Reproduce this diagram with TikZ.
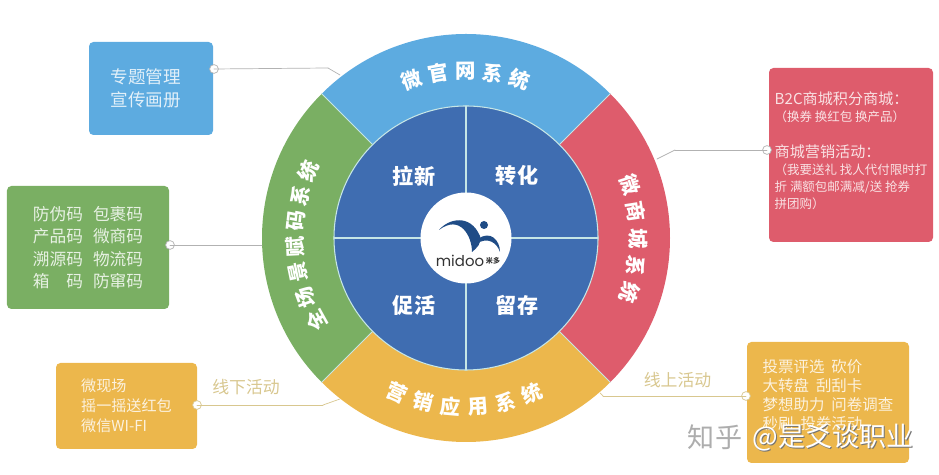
\documentclass[tikz,border=0pt]{standalone}
\usepackage{fontspec}
\usepackage{tkz-euclide}
\setmainfont{Noto Sans CJK SC}
\newfontfamily\logofont{Poppins}
\definecolor{topBlue}{HTML}{5DABE0}
\definecolor{midGreen}{HTML}{7AAF63}
\definecolor{midRed}{HTML}{DE5C6C}
\definecolor{midYellow}{HTML}{ECB74C}
\definecolor{coreBlue}{HTML}{3F6DB1}
\definecolor{logoBlue}{HTML}{1F4C86}
\definecolor{sepLine}{HTML}{C6E6E6}
\definecolor{tanText}{HTML}{D8C78F}
\newcommand{\mySize}[2]{\fontsize{#1}{#2}\selectfont}
\newcommand{\myArcText}[6]{
\foreach \ch [count=\i from 0] in {#1}{
	\pgfmathsetmacro{\ang}{#2+\i*#3}
	\pgfmathsetmacro{\rot}{\ang+#5}
	\node[ringtext,rotate=\rot] (#6\i) at ([shift={(\ang:#4)}]O) {\ch};
}
}
\tikzset{
	ringtext/.style={text=white,font=\bfseries\mySize{11.6}{14}},
	coretext/.style={text=white,font=\bfseries\mySize{12}{14}},
	sidebox/.style={fill=#1,text=white!82!#1,rounded corners=2.5pt,align=left,inner sep=0pt},
	conn/.style={draw=#1,line width=.4pt},
	dotnode/.style={circle,draw=#1,fill=white,line width=.4pt,inner sep=0pt,minimum size=5pt},
	linktext/.style={text=tanText,font=\mySize{9.6}{12}},
	marktext/.style={font=\mySize{15.4}{18}},
}
\begin{document}
\begin{tikzpicture}
	\useasboundingbox (0,0) rectangle (18.78,9.5);
	\tkzDefPoint(9.32,4.74){O}
	\tkzDefShiftPoint[O](45:4.08){A}
	\tkzDefShiftPoint[O](135:4.08){B}
	\tkzDefShiftPoint[O](225:4.08){C}
	\tkzDefShiftPoint[O](315:4.08){D}
	\tkzDefShiftPoint[O](90:2.64){N}
	\tkzDefShiftPoint[O](180:2.64){W}
	\tkzDefShiftPoint[O](270:2.64){S}
	\tkzDefShiftPoint[O](0:2.64){E}
	\tkzDefShiftPoint[O](0:.91){L}
	%% outer ring
	\tkzFillSector[fill=topBlue](O,A)(B)
	\tkzFillSector[fill=midGreen](O,B)(C)
	\tkzFillSector[fill=midYellow](O,C)(D)
	\tkzFillSector[fill=midRed](O,D)(A)
	\tkzDrawSegments[sepLine,line width=.5pt](O,A O,B O,C O,D)
	%% core
	\tkzDrawCircle[draw=sepLine,line width=.6pt,fill=coreBlue](O,E)
	\tkzDrawSegments[sepLine,line width=.6pt](N,S W,E)
	\tkzFillCircle[white](O,L)
	%% logo
	\fill[logoBlue] (8.78,4.90) .. controls (8.96,5.12) and (9.40,5.24) .. (9.60,4.78)
		.. controls (9.64,4.64) and (9.54,4.54) .. (9.44,4.46)
		.. controls (9.44,4.78) and (9.20,5.22) .. (8.78,4.90) -- cycle;
	\fill[logoBlue] (9.56,4.72) .. controls (9.80,4.90) and (10.00,4.70) .. (10.00,4.46)
		.. controls (9.94,4.64) and (9.76,4.78) .. (9.52,4.62) -- cycle;
	\fill[logoBlue] (9.68,5.00) circle (.08);
	\node[text=black!80,font=\logofont\mySize{8.5}{10}] (logoName) at (9.20,4.28) {midoo};
	\node[text=black!80,font=\bfseries\mySize{4}{5}] (logoCn) at (9.86,4.28) {米多};
	%% ring labels
	\myArcText{微,官,网,系,统}{109}{-9.4}{3.34}{-90}{wgw}
	\myArcText{全,场,景,赋,码,系,统}{209}{-8.7}{3.42}{-90}{qcj}
	\myArcText{微,商,城,系,统}{18}{-9.1}{3.44}{-90}{wsc}
	\myArcText{营,销,应,用,系,统}{246}{9.4}{3.38}{90}{yxy}
	\node[coretext] (laxin) at (8.28,5.98) {拉新};
	\node[coretext] (zhuanhua) at (10.34,5.98) {转化};
	\node[coretext] (cuhuo) at (8.28,3.40) {促活};
	\node[coretext] (liucun) at (10.34,3.40) {留存};
	%% boxes
	\node[sidebox=topBlue,minimum width=2.48cm,minimum height=1.86cm,font=\mySize{10}{13}] (boxTop) at (3.02,7.73)
		{专题管理\hspace*{5.7pt}\\宣传画册};
	\node[sidebox=midGreen,minimum width=3.24cm,minimum height=2.46cm,font=\mySize{9.5}{12.7}] (boxLeft) at (1.76,4.55)
		{防伪码\hspace{.6em}包裹码\\产品码\hspace{.6em}微商码\\溯源码\hspace{.6em}物流码\\箱\quad 码\hspace{.6em}防窜码};
	\node[sidebox=midRed,minimum width=3.28cm,minimum height=3.48cm,font=\mySize{7.1}{9.7}] (boxRight) at (17.02,6.40)
		{{\mySize{8.6}{10}B2C商城积分商城：}\\（换券 换红包 换产品）\\[10.5pt]{\mySize{8.6}{10}商城营销活动：}\\（我要送礼 找人代付限时打\\折 满额包邮满减/送 抢券\\拼团购）\\[-4pt]\mbox{}};
	\node[sidebox=midYellow,minimum width=2.82cm,minimum height=1.72cm,font=\mySize{8.6}{11.5}] (boxOff) at (2.53,1.38)
		{微现场\\摇一摇送红包\\微信WI-FI};
	\node[sidebox=midYellow,minimum width=3.24cm,minimum height=2.42cm,font=\mySize{8.8}{10.8}] (boxOn) at (16.56,1.45)
		{投票评选\ \ 砍价\\大转盘\ \ 刮刮卡\\梦想助力\ \ 问卷调查\\秒刷\ \ 投券活动\\[-2pt]\mbox{}};
	%% connectors
	\tkzDefPoints{6.56/8.14/bendTop, 6.80/8.00/ringTop, 5.24/4.60/ringLeft, 13.50/6.50/bendRight, 13.14/6.32/ringRight}
	\tkzDefPoints{6.46/1.40/bendOff, 6.80/1.52/ringOff, 12.06/1.58/bendOn, 12.00/1.64/ringOn}
	\node[dotnode=black!30] (dotTop) at (4.28,8.12) {};
	\node[dotnode=black!30] (dotLeft) at (3.40,4.60) {};
	\node[dotnode=black!30] (dotRight) at (15.34,6.50) {};
	\node[dotnode=tanText] (dotOff) at (3.94,1.40) {};
	\node[dotnode=tanText] (dotOn) at (14.92,1.58) {};
	\tkzDrawSegments[conn=black!30](dotTop,bendTop bendTop,ringTop dotLeft,ringLeft dotRight,bendRight bendRight,ringRight)
	\tkzDrawSegments[conn=tanText](dotOff,bendOff bendOff,ringOff dotOn,bendOn bendOn,ringOn)
	\node[linktext] (linkOff) at (4.92,1.76) {线下活动};
	\node[linktext] (linkOn) at (13.55,1.90) {线上活动};
	%% watermark
	\node[marktext,text=black!32] (markZhi) at (14.30,.76) {知乎};
	\node[marktext,text=black!55] (markShadow) at (16.685,.735) {@是爻谈职业};
	\node[marktext,text=white] (markName) at (16.66,.76) {@是爻谈职业};
\end{tikzpicture}
\end{document}
